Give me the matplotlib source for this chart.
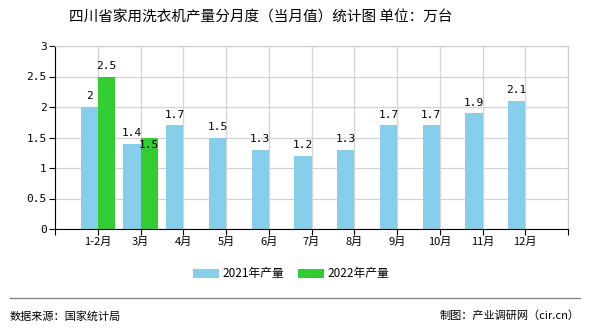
import matplotlib
matplotlib.use("Agg")
import matplotlib.pyplot as plt
import numpy as np

plt.rcParams['font.family'] = ['Noto Sans CJK SC', 'DejaVu Sans']

title = "四川省家用洗衣机产量分月度（当月值）统计图 单位：万台"
categories = ["1-2月", "3月", "4月", "5月", "6月", "7月", "8月", "9月", "10月", "11月", "12月"]
series_2021 = [2, 1.4, 1.7, 1.5, 1.3, 1.2, 1.3, 1.7, 1.7, 1.9, 2.1]
series_2022 = [2.5, 1.5]
labels_2021 = ["2", "1.4", "1.7", "1.5", "1.3", "1.2", "1.3", "1.7", "1.7", "1.9", "2.1"]
labels_2022 = ["2.5", "1.5"]
legend_names = ["2021年产量", "2022年产量"]
yticks = [0, 0.5, 1, 1.5, 2, 2.5, 3]
ytick_labels = ["0", "0.5", "1", "1.5", "2", "2.5", "3"]

c21 = "#87CEEB"
c22 = "#33CC33"

fig = plt.figure(figsize=(5.9, 3.3), dpi=100)
ax = fig.add_axes([55/590, 1-229/330, (568-55)/590, (229-46)/330])

x = np.arange(len(categories))
w = 0.4
b1 = ax.bar(x - w/2, series_2021, width=w, color=c21, label=legend_names[0], zorder=2)
x2 = np.arange(len(series_2022))
b2 = ax.bar(x2 + w/2, series_2022, width=w, color=c22, label=legend_names[1], zorder=2)

mono = ['DejaVu Sans Mono']
for xi, v, t in zip(x, series_2021, labels_2021):
    ax.annotate(t, (xi - w/2, v), xytext=(0, 4), textcoords='offset points',
                ha='center', va='bottom', fontsize=8, family=mono)
for i, (xi, v, t) in enumerate(zip(x2, series_2022, labels_2022)):
    # second label is drawn inside the bar in the reference (collision shift)
    dy = 4 if i == 0 else -2
    va = 'bottom' if i == 0 else 'top'
    ax.annotate(t, (xi + w/2, v), xytext=(0, dy), textcoords='offset points',
                ha='center', va=va, fontsize=8, family=mono)

ax.set_xlim(-1, len(categories))
ax.set_ylim(0, 3)
ax.set_yticks(yticks)
ax.set_yticklabels(ytick_labels, fontsize=8, family=mono)
ticks = list(range(-1, len(categories) + 1))
ax.set_xticks(ticks)
ax.set_xticklabels([""] + categories + [""], fontsize=8)
ax.tick_params(axis='x', length=4, pad=2)
ax.tick_params(axis='y', length=4, pad=2)
ax.grid(True, color="#d3d3d3", linewidth=0.9, zorder=0)
ax.set_axisbelow(True)
for s in ['top', 'right']:
    ax.spines[s].set_color("#cccccc")
for s in ['left', 'bottom']:
    ax.spines[s].set_color("black")

fig.text(261/590, 1-18/330, title, ha='center', va='center', fontsize=10.5)

leg = fig.legend(handles=[b1, b2], labels=legend_names, loc='center', bbox_to_anchor=(291/590, 1-274/330),
                 ncol=2, frameon=False, fontsize=8.5, handlelength=2.2, handleheight=0.9,
                 columnspacing=1.2, handletextpad=0.3)

fig.add_artist(plt.Line2D([10/590, 580/590], [1-298/330, 1-298/330], color="#888888", linewidth=1))
fig.text(10/590, 1-316/330, "数据来源：国家统计局", ha='left', va='center', fontsize=8)
fig.text(580/590, 1-316/330, "制图：产业调研网（cir.cn）", ha='right', va='center', fontsize=8)

fig.savefig("out.png", dpi=100)
